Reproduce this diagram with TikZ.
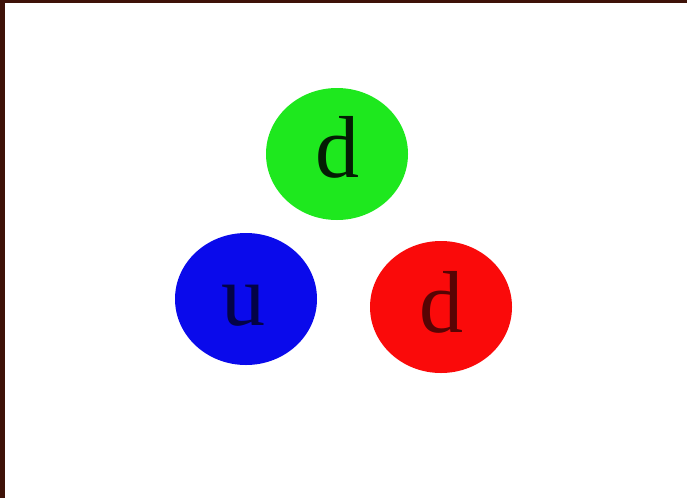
\documentclass[tikz,border=0pt]{standalone}
\usepackage{fontspec}
\setmainfont{Liberation Serif}
\usetikzlibrary{shapes.geometric}
\definecolor{frame}{RGB}{62,18,8}
\definecolor{qgreen}{RGB}{30,232,30}
\definecolor{qblue}{RGB}{10,10,235}
\definecolor{qred}{RGB}{250,10,10}
\newcommand{\qsize}{\fontsize{88}{88}\selectfont}

\begin{document}
\begin{tikzpicture}[x=1pt,y=-1pt,
  quark/.style={ellipse,minimum width=142pt,minimum height=132pt,inner sep=0pt},
  flavour/.style={anchor=base,inner sep=0pt,font=\qsize}]
\useasboundingbox (0,0) rectangle (687,498);
\fill[white] (0,0) rectangle (687,498);
\fill[frame] (0,0) rectangle (687,2.5);
\fill[frame] (0,0) rectangle (5,498);
% the three quarks
\node[quark,fill=qgreen] (dg) at (337,154) {};
\node[quark,fill=qblue] (u) at (246,299) {};
\node[quark,fill=qred] (dr) at (441,307) {};
\node[flavour,text=qgreen!12!black] (dgtxt) at (337,177) {d};
\node[flavour,text=qblue!30!black] (utxt) at (243,325) {u};
\node[flavour,text=qred!35!black] (drtxt) at (441,332) {d};
\end{tikzpicture}
\end{document}
